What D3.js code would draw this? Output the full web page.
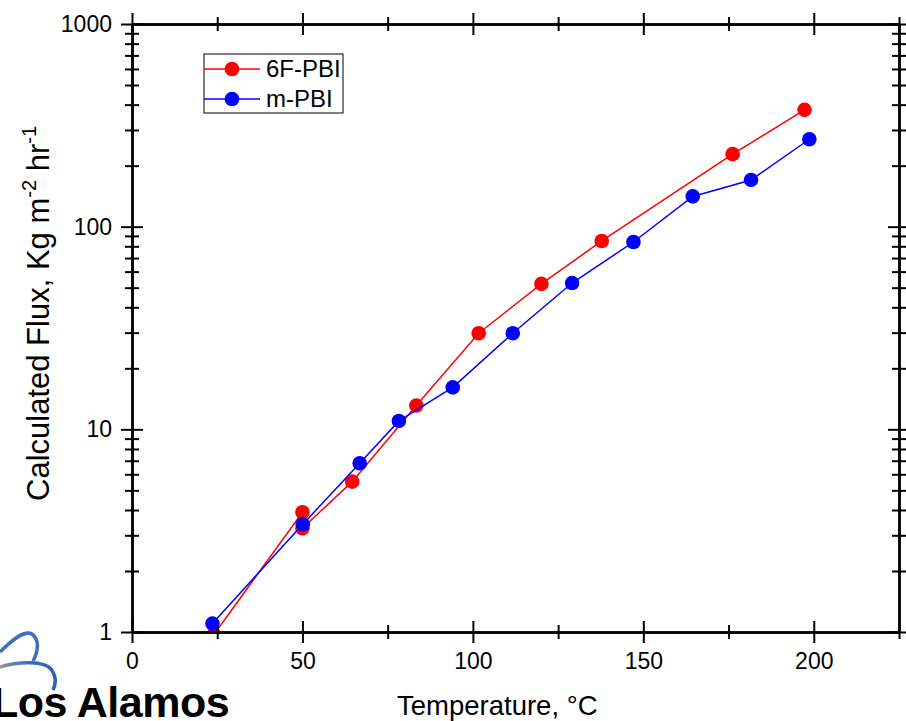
<!DOCTYPE html>
<html>
<head>
<meta charset="utf-8">
<script src="https://cdn.jsdelivr.net/npm/d3@7"></script>
<style>
  body { margin: 0; background: #fff; }
  svg { display: block; font-family: "Liberation Sans", Arial, sans-serif; }
</style>
</head>
<body>
<svg id="chart" width="906" height="721"></svg>
<script>
// data
var temp6F = [24, 50, 50, 64.6, 83.4, 101.7, 120.1, 137.8, 176.2, 197.3];
var flux6F = [0.97, 3.9, 3.25, 5.52, 13.1, 29.8, 52.2, 85, 228, 377];
var tempM = [23.6, 50.1, 66.8, 78.3, 94.1, 111.7, 129.1, 147.1, 164.5, 181.6, 198.7];
var fluxM = [1.10, 3.40, 6.8, 11.0, 16.1, 29.8, 52.7, 84, 141, 170, 270];
var seriesNames = ["6F-PBI", "m-PBI"];
var seriesColors = ["#ff0000", "#0000ff"];
var xMajor = [0, 50, 100, 150, 200];
var xMinor = [25, 75, 125, 175, 225];
var yMajor = [1, 10, 100, 1000];

function draw_chart() {
    var svg = d3.select("#chart");
    var left = 132, right = 899, plotTop = 24, plotBottom = 632;

    var x = d3.scaleLinear().domain([0, 225]).range([left, right]);
    var y = d3.scaleLog().domain([1, 1000]).range([plotBottom, plotTop]);

    // minor log ticks 2..9 in each decade
    var yMinor = [];
    yMajor.slice(0, 3).forEach(function(d) {
        for (var k = 2; k <= 9; k++) yMinor.push(d * k);
    });

    var defs = svg.append("defs");
    defs.append("clipPath").attr("id", "plotclip")
        .append("rect")
        .attr("x", left).attr("y", plotTop)
        .attr("width", right - left).attr("height", plotBottom - plotTop);

    // series
    var series = [
        { name: seriesNames[0], color: seriesColors[0], xs: temp6F, ys: flux6F },
        { name: seriesNames[1], color: seriesColors[1], xs: tempM, ys: fluxM }
    ];
    var line = d3.line().x(function(d) { return x(d[0]); }).y(function(d) { return y(d[1]); });

    var plot = svg.append("g").attr("clip-path", "url(#plotclip)");
    series.forEach(function(s) {
        var pts = d3.zip(s.xs, s.ys);
        plot.append("path")
            .datum(pts)
            .attr("fill", "none")
            .attr("stroke", s.color)
            .attr("stroke-width", 1.5)
            .attr("d", line);
        plot.append("g").selectAll("circle")
            .data(pts)
            .enter().append("circle")
            .attr("cx", function(d) { return x(d[0]); })
            .attr("cy", function(d) { return y(d[1]); })
            .attr("r", 7.3)
            .attr("fill", s.color);
    });

    // axes: each side drawn twice (outward + inward) so the ticks cross the line
    function styleAxis(g) {
        g.selectAll("path.domain").attr("stroke", "#000").attr("stroke-width", 2);
        g.selectAll(".tick line").attr("stroke", "#000").attr("stroke-width", 2);
        g.selectAll("text").attr("font-size", 23).attr("fill", "#000")
            .attr("font-family", "'Liberation Sans', Arial, sans-serif");
    }
    function noLabel(a) { return a.tickFormat(""); }
    function put(tx, ty, axis) {
        return svg.append("g").attr("transform", "translate(" + tx + "," + ty + ")")
            .call(axis).call(styleAxis);
    }

    // bottom, with labels
    put(0, plotBottom, d3.axisBottom(x).tickValues(xMajor).tickSize(11).tickSizeOuter(0)
        .tickPadding(10).tickFormat(d3.format("d")));
    put(0, plotBottom, noLabel(d3.axisTop(x).tickValues(xMajor).tickSize(11).tickSizeOuter(0)));
    // left, with labels
    put(left, 0, d3.axisLeft(y).tickValues(yMajor).tickSize(11).tickSizeOuter(0)
        .tickPadding(9).tickFormat(d3.format("d")));
    put(left, 0, noLabel(d3.axisRight(y).tickValues(yMajor).tickSize(11).tickSizeOuter(0)));

    [d3.axisTop, d3.axisBottom].forEach(function(ax) {
        put(0, plotBottom, noLabel(ax(x).tickValues(xMinor).tickSize(7).tickSizeOuter(0)));
        put(0, plotTop, noLabel(ax(x).tickValues(xMajor).tickSize(11).tickSizeOuter(0)));
        put(0, plotTop, noLabel(ax(x).tickValues(xMinor).tickSize(7).tickSizeOuter(0)));
    });
    [d3.axisLeft, d3.axisRight].forEach(function(ax) {
        put(left, 0, noLabel(ax(y).tickValues(yMinor).tickSize(7).tickSizeOuter(0)));
        put(right, 0, noLabel(ax(y).tickValues(yMajor).tickSize(11).tickSizeOuter(0)));
        put(right, 0, noLabel(ax(y).tickValues(yMinor).tickSize(7).tickSizeOuter(0)));
    });

    // axis titles
    svg.append("text")
        .attr("x", 397).attr("y", 715)
        .attr("font-size", 27.5)
        .text("Temperature, \u00B0C");

    var yt = svg.append("text")
        .attr("transform", "translate(49,501)rotate(-90)")
        .attr("font-size", 31);
    yt.append("tspan").text("Calculated Flux, Kg m");
    yt.append("tspan").attr("font-size", 20).attr("dy", -13).text("-2");
    yt.append("tspan").attr("dy", 13).text(" hr");
    yt.append("tspan").attr("font-size", 20).attr("dy", -13).text("-1");

    // legend
    var legend = svg.append("g");
    legend.append("rect")
        .attr("x", 204).attr("y", 54).attr("width", 139).attr("height", 59)
        .attr("fill", "#fff").attr("stroke", "#000").attr("stroke-width", 1);
    series.forEach(function(s, i) {
        var ly = 69 + i * 30;
        legend.append("line")
            .attr("x1", 204).attr("x2", 260).attr("y1", ly).attr("y2", ly)
            .attr("stroke", s.color).attr("stroke-width", 1.5);
        legend.append("circle")
            .attr("cx", 232).attr("cy", ly).attr("r", 7.3).attr("fill", s.color);
        legend.append("text")
            .attr("x", 266).attr("y", ly + 8)
            .attr("font-size", 24)
            .text(s.name);
    });

    // logo in the corner
    var grad = defs.append("linearGradient").attr("id", "swoosh")
        .attr("x1", "0").attr("x2", "1").attr("y1", "0").attr("y2", "0");
    grad.append("stop").attr("offset", "0").attr("stop-color", "#9a8f8a");
    grad.append("stop").attr("offset", "0.5").attr("stop-color", "#3f6fc4");
    grad.append("stop").attr("offset", "1").attr("stop-color", "#2a5fc0");
    svg.append("path")
        .attr("d", "M0,652 C12,640 24,630 32,634 C40,640 38,652 33,661")
        .attr("fill", "none").attr("stroke", "#3f6fc4").attr("stroke-width", 3.5);
    svg.append("path")
        .attr("d", "M0,667 C20,661 44,661 51,669 C56,676 56,684 53,690")
        .attr("fill", "none").attr("stroke", "url(#swoosh)").attr("stroke-width", 3.5);
    svg.append("text")
        .attr("x", -8).attr("y", 717)
        .attr("font-size", 43).attr("font-weight", "bold")
        .attr("letter-spacing", -0.5)
        .text("Los Alamos");
}
draw_chart();
</script>
</body>
</html>
